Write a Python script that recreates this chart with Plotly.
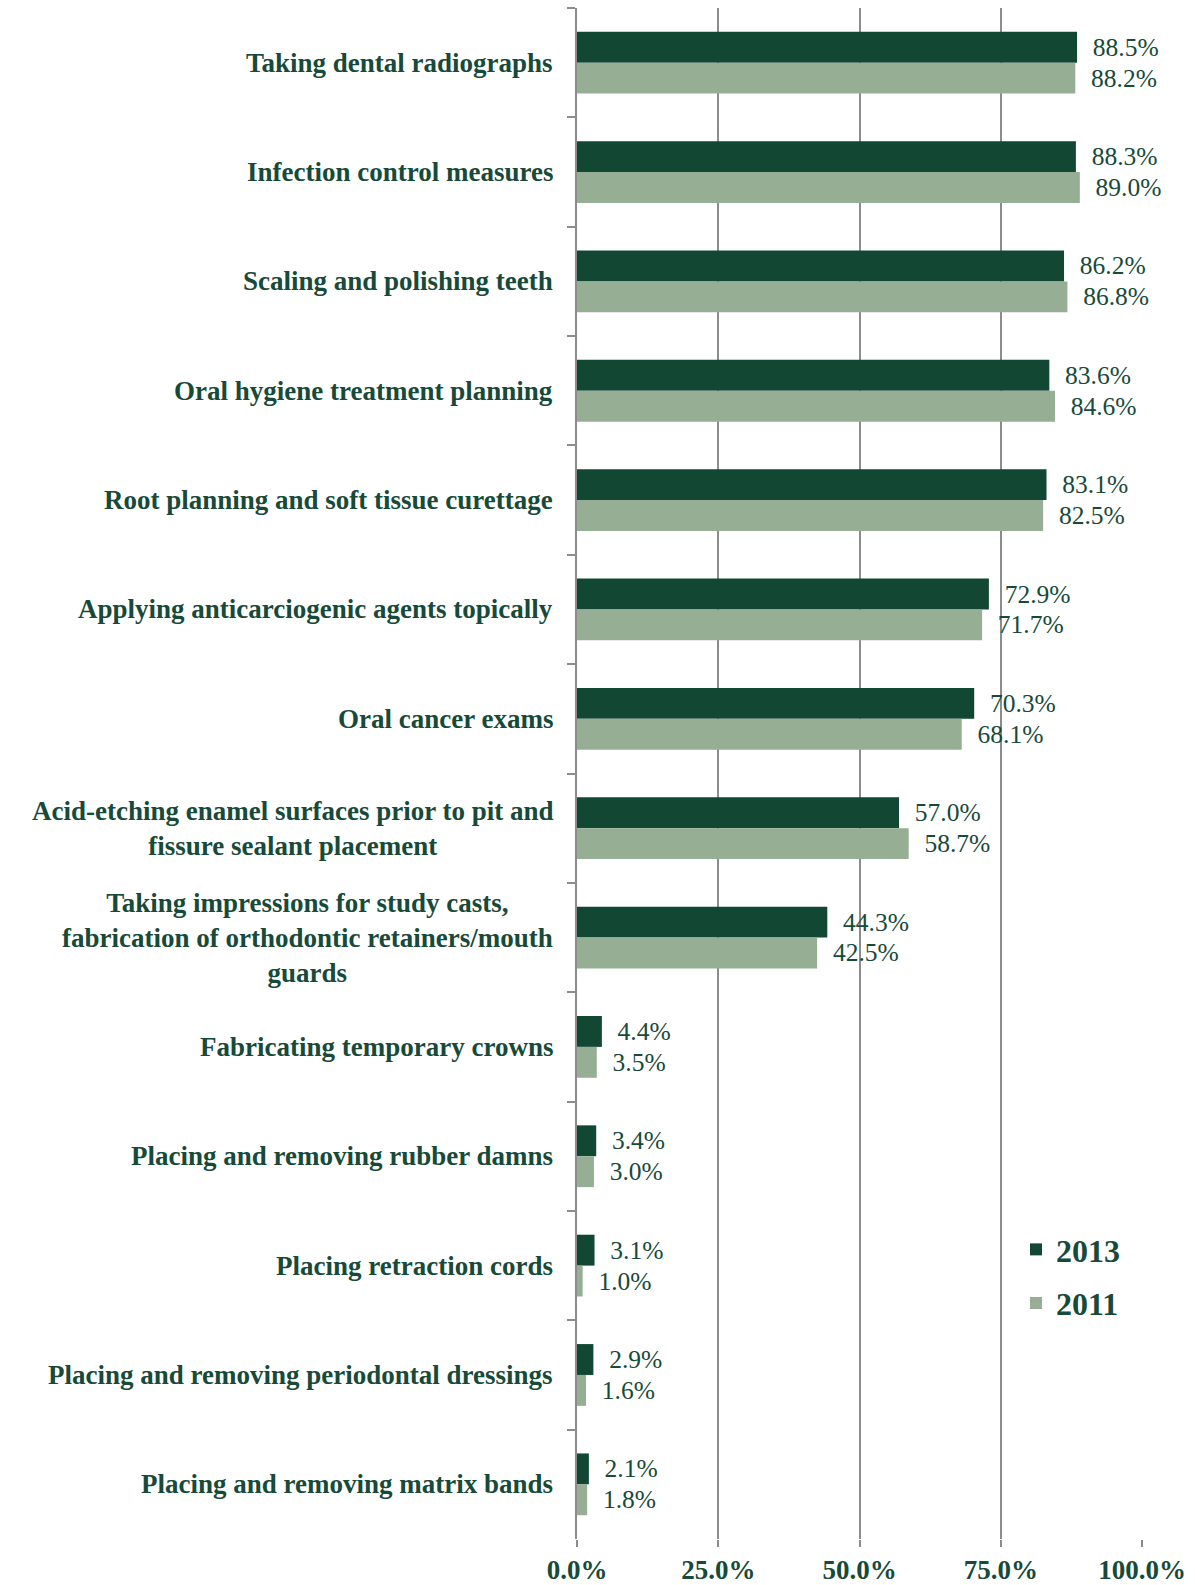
import plotly.graph_objects as go

# Share of respondents performing each dental procedure, by survey year
categories = [
    "Taking dental radiographs",
    "Infection control measures",
    "Scaling and polishing teeth",
    "Oral hygiene treatment planning",
    "Root planning and soft tissue curettage",
    "Applying anticarciogenic agents topically",
    "Oral cancer exams",
    "Acid-etching enamel surfaces prior to pit and<br>fissure sealant placement",
    "Taking impressions for study casts,<br>fabrication of orthodontic retainers/mouth<br>guards",
    "Fabricating temporary crowns",
    "Placing and removing rubber damns",
    "Placing retraction cords",
    "Placing and removing periodontal dressings",
    "Placing and removing matrix bands",
]
values_2013 = [88.5, 88.3, 86.2, 83.6, 83.1, 72.9, 70.3, 57.0, 44.3, 4.4, 3.4, 3.1, 2.9, 2.1]
values_2011 = [88.2, 89.0, 86.8, 84.6, 82.5, 71.7, 68.1, 58.7, 42.5, 3.5, 3.0, 1.0, 1.6, 1.8]
x_ticks = [0, 25, 50, 75, 100]

DARK = "#124734"
LIGHT = "#96AF94"
TEXT = "#174A38"
GRID = "#8C8C8C"
SERIF = "Liberation Serif, Times New Roman, serif"

fig = go.Figure()
for name, vals, color in [("2013", values_2013, DARK), ("2011", values_2011, LIGHT)]:
    fig.add_trace(go.Bar(
        name=name,
        legendgroup=name,
        y=categories,
        x=vals,
        orientation="h",
        marker=dict(color=color, line=dict(width=0)),
        texttemplate="\u00a0\u00a0%{x:.1f}%",
        textposition="outside",
        outsidetextfont=dict(family=SERIF, size=25.5, color=TEXT),
        constraintext="none",
        cliponaxis=False,
        hoverinfo="skip",
    ))

# Category labels, centred line by line to the left of the axis
for cat in categories:
    fig.add_annotation(
        x=0, xref="paper", y=cat, yref="y",
        text=cat, showarrow=False,
        xanchor="right", yanchor="middle", align="center",
        xshift=-22,
        font=dict(family=SERIF, size=27, color=TEXT, weight="bold"),
    )

fig.update_layout(
    width=1195, height=1585,
    margin=dict(l=577, r=53, t=8, b=46),
    barmode="group",
    bargap=0.435,
    bargroupgap=0,
    plot_bgcolor="white",
    paper_bgcolor="white",
    showlegend=True,
    legend=dict(
        x=0.777, y=0.207, xanchor="left", yanchor="top",
        bgcolor="rgba(0,0,0,0)",
        font=dict(family=SERIF, size=32, color=TEXT, weight="bold"),
        tracegroupgap=9,
        traceorder="grouped",
    ),
    xaxis=dict(
        range=[0, 100],
        tickvals=x_ticks,
        ticktext=[f"{v:.1f}%" for v in x_ticks],
        showgrid=True, gridcolor=GRID, gridwidth=1.5,
        zeroline=False, showline=False,
        ticks="outside", ticklen=7, tickcolor=GRID, tickwidth=1.5,
        ticklabelstandoff=0,
        automargin=False,
        tickfont=dict(family=SERIF, size=27, color=TEXT, weight="bold"),
    ),
    yaxis=dict(
        autorange="reversed",
        showticklabels=False,
        showgrid=False,
        showline=True, linecolor=GRID, linewidth=1.5,
        ticks="outside", tickson="boundaries", ticklen=8,
        tickcolor=GRID, tickwidth=1.5,
    ),
)

fig.write_html("out.html")
